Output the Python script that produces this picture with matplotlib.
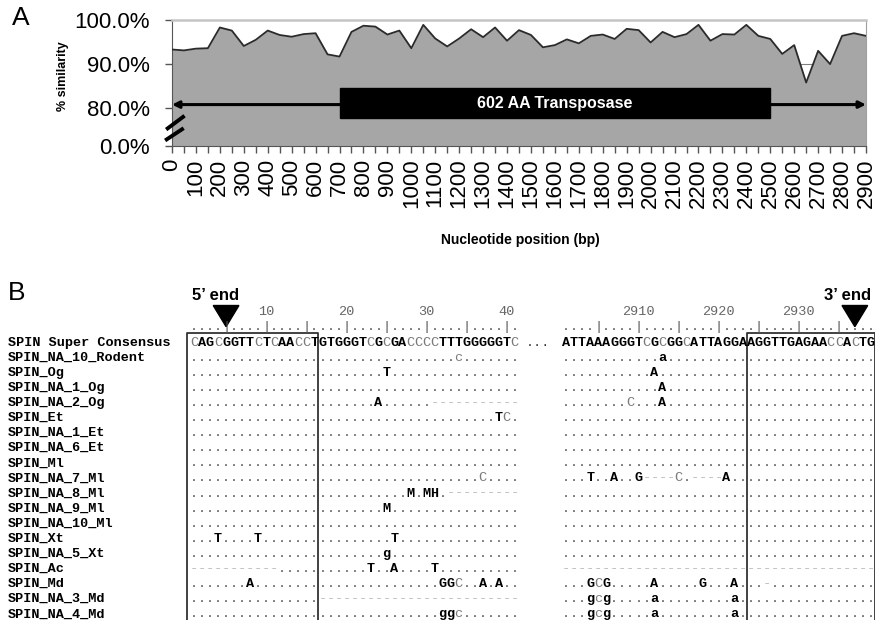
import matplotlib.pyplot as plt
from matplotlib.patches import Rectangle, Polygon

plt.rcParams['font.family'] = ['Liberation Sans', 'DejaVu Sans']

# ---- panel A data: % similarity every 50 bp ----
position_bp = list(range(0, 2901, 50))
similarity = [93.3, 93.1, 93.5, 93.6, 98.3, 97.6, 94.1, 95.5, 97.6, 96.6,
              96.2, 96.8, 97.0, 92.2, 91.7, 97.3, 98.7, 98.5, 96.7, 97.6,
              93.6, 98.9, 95.8, 94.0, 95.8, 97.9, 96.1, 98.3, 95.3, 97.7,
              96.6, 93.8, 94.3, 95.6, 94.7, 96.4, 96.7, 95.7, 98.0, 97.7,
              94.9, 97.3, 96.1, 96.8, 98.9, 95.3, 96.8, 96.7, 98.9, 96.4,
              95.7, 92.3, 94.3, 85.8, 93.0, 90.0, 96.4, 97.0, 96.4]
ytick_values = [80, 90, 100]
ytick_labels = ['0.0%', '80.0%', '90.0%', '100.0%']
y_floor = 71.4          # where the broken axis puts "0.0%"
orf_start, orf_end = 700, 2500
orf_label = '602 AA Transposase'

# ---- panel B data: alignment of the two termini ----
names = ['SPIN Super Consensus', 'SPIN_NA_10_Rodent', 'SPIN_Og', 'SPIN_NA_1_Og',
         'SPIN_NA_2_Og', 'SPIN_Et', 'SPIN_NA_1_Et', 'SPIN_NA_6_Et', 'SPIN_Ml',
         'SPIN_NA_7_Ml', 'SPIN_NA_8_Ml', 'SPIN_NA_9_Ml', 'SPIN_NA_10_Ml',
         'SPIN_Xt', 'SPIN_NA_5_Xt', 'SPIN_Ac', 'SPIN_Md', 'SPIN_NA_3_Md',
         'SPIN_NA_4_Md']
left_seqs = [
    'CAGCGGTTCTCAACCTGTGGGTCGCGACCCCTTTGGGGGTC',
    '.................................c.......',
    '........................T................',
    '.........................................',
    '.......................A......-----------',
    '......................................TC.',
    '.........................................',
    '.........................................',
    '.........................................',
    '....................................C....',
    '...........................M.MH.---------',
    '........................M................',
    '.........................................',
    '...T....T................T...............',
    '........................g................',
    '-----------...........T..A....T..........',
    '.......A.......................GGC..A.A..',
    '................-------------------------',
    '...............................ggc.......',
]
right_seqs = [
    'ATTAAAGGGTCGCGGCATTAGGAAGGTTGAGAACCACTG',
    '............a..........................',
    '...........A...........................',
    '............A..........................',
    '........C...A..........................',
    '.......................................',
    '.......................................',
    '.......................................',
    '.......................................',
    '...T..A..G----C.----A..................',
    '.......................................',
    '.......................................',
    '.......................................',
    '.......................................',
    '.......................................',
    '---------------------------------------',
    '...GCG.....A.....G...A...-.............',
    '...gcg.....a.........a.................',
    '...gcg.....a.........a.................',
]
left_first, right_first = 1, 2901
left_box = (1, 16)
right_box = (2924, 2939)
left_end, right_end = 5, 2937

W, H = 875, 620
fig = plt.figure(figsize=(W / 100, H / 100), dpi=100)


def frac(l, t, r, b):
    return [l / W, 1 - b / H, (r - l) / W, (b - t) / H]


# ================= panel A =================
ax = fig.add_axes(frac(172, 20, 866, 146))
ax.axhline(90, color='#808080', lw=0.8, zorder=1)
ax.fill_between(position_bp, y_floor, similarity, color='#a6a6a6', lw=0, zorder=2)
ax.plot(position_bp, similarity, color='#2a2a2a', lw=1.3, zorder=3)
ax.set_xlim(0, 2900)
ax.set_ylim(y_floor, 100)
ax.set_yticks([y_floor] + ytick_values)
ax.set_yticklabels(ytick_labels, fontsize=16)
ax.set_xticks(position_bp)
ax.set_xticklabels([str(p) if p % 100 == 0 else '' for p in position_bp],
                   rotation=90, fontsize=16)
ax.tick_params(axis='both', direction='out', length=5, width=1, color='#555')
ax.tick_params(axis='y', pad=11)
ax.tick_params(axis='x', pad=4)
for s in ['left', 'bottom']:
    ax.spines[s].set_color('#555')
ax.spines['top'].set_color('#c4c4c4')
ax.spines['top'].set_linewidth(1.8)
ax.spines['right'].set_color('#a0a0a0')

# transposase ORF
ax.annotate('', xy=(0, 80.8), xytext=(2900, 80.8),
            arrowprops=dict(arrowstyle='<|-|>', color='black', lw=2.2,
                            mutation_scale=10, shrinkA=0, shrinkB=0), zorder=4)
ax.add_patch(Rectangle((orf_start, 77.7), orf_end - orf_start, 6.8,
                       color='black', zorder=5))
ax.text((orf_start + orf_end) / 2, 81.1, orf_label, color='white',
        fontsize=11.5, fontweight='bold', ha='center', va='center', zorder=6)

# axis break marks
ax.plot([-18, 46], [75.4, 78.0], color='black', lw=2.8, clip_on=False, zorder=7)
ax.plot([-22, 42], [72.9, 75.2], color='black', lw=2.8, clip_on=False, zorder=7)

fig.text(12 / W, 1 - 18 / H, 'A', fontsize=19, va='center', ha='left')
fig.text(63 / W, 1 - 76 / H, '% similarity', rotation=90, fontsize=9,
         fontweight='bold', ha='center', va='center')
fig.text(520 / W, 1 - 240 / H, 'Nucleotide position (bp)', fontsize=10,
         fontweight='bold', ha='center', va='center')

# ================= panel B =================
cw, rh = 8.02, 15.1          # px per alignment column / row
x0, y0 = 190, 341            # px of column 0 / row 0
right_col0 = 46.4            # column offset of the 3' block
axb = fig.add_axes([0, 0, 1, 1], zorder=-1)
axb.set_xlim(-x0 / cw, (W - x0) / cw)
axb.set_ylim((H - y0) / rh, -y0 / rh)
axb.axis('off')

mono = dict(family=['Liberation Mono', 'DejaVu Sans Mono'], fontsize=9.7)


def draw_seq(seq, col0, row):
    for i, ch in enumerate(seq):
        if ch == '.':
            st = dict(color='#555555')
        elif ch == '-':
            st = dict(color='#b8b8b8')
        elif ch in 'Cc':
            st = dict(color='#7a7a7a')
        else:
            st = dict(color='black', fontweight='bold')
        axb.text(col0 + i + 0.5, row + 0.3, ch, ha='center', va='baseline',
                 **mono, **st)


def draw_ruler(first, n, col0):
    for i in range(n):
        p = first + i
        axb.text(col0 + i + 0.5, -1.0 + 0.3, '|' if p % 5 == 0 else '.',
                 ha='center', va='baseline', color='#555555', **mono)
        if p % 10 == 0:
            axb.text(col0 + i + 0.5, -2.0 + 0.3, str(p), ha='center',
                     va='baseline', color='#666666', **mono)


for r, name in enumerate(names):
    axb.text(-x0 / cw + 1.0, r + 0.3, name, ha='left', va='baseline',
             color='black', fontweight='bold', **mono)
    draw_seq(left_seqs[r], 0, r)
    draw_seq(right_seqs[r], right_col0, r)
axb.text(43.4, 0.3, '...', ha='center', va='baseline', color='#333', **mono)

draw_ruler(left_first, len(left_seqs[0]), 0)
draw_ruler(right_first, len(right_seqs[0]), right_col0)

# TIR boxes
for first, box, col0, right_edge in [(left_first, left_box, 0, None),
                                     (right_first, right_box, right_col0, 85.35)]:
    c1 = col0 + box[0] - first - (0.4 if col0 == 0 else 0)
    c2 = right_edge if right_edge else col0 + box[1] - first + 1
    axb.plot([c1, c1, c2, c2], [20, -0.55, -0.55, 20], color='#333333', lw=1.3)

# end markers
for first, end, col0, label, lx in [(left_first, left_end, 0, '5\u2019 end', 3.2),
                                    (right_first, right_end, right_col0, '3\u2019 end', 82.0)]:
    c = col0 + end - first + 0.5
    axb.add_patch(Polygon([(c - 1.6, -2.35), (c + 1.6, -2.35), (c, -0.95)],
                          color='black'))
    axb.text(lx, -3.0, label, ha='center', va='center', fontsize=12,
             fontweight='bold')

fig.text(8 / W, 1 - 293 / H, 'B', fontsize=19, va='center', ha='left')

fig.savefig('out.png', dpi=100)
